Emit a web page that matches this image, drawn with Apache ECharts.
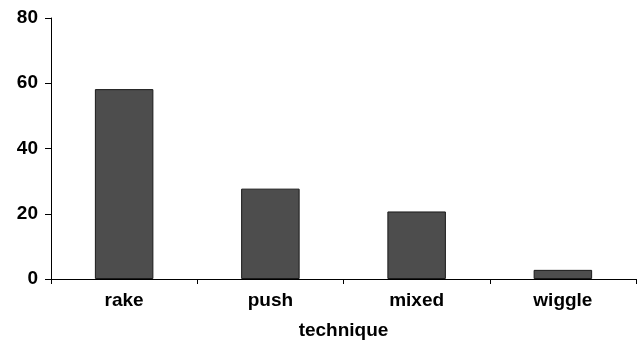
<!DOCTYPE html>
<html><head><meta charset="utf-8">
<script src="https://cdn.jsdelivr.net/npm/echarts@6/dist/echarts.min.js"></script>
<style>html,body{margin:0;padding:0;background:#fff}#c{width:639px;height:345px}</style>
</head><body><div id="c"></div>
<script>
var categories = ['rake', 'push', 'mixed', 'wiggle'];
var values = [58.2, 27.7, 20.7, 2.8];
var yTicks = [0, 20, 40, 60, 80];
var xTitle = 'technique';

var chart = echarts.init(document.getElementById('c'), null, {renderer: 'canvas'});
var font = 'Liberation Sans, Arial, sans-serif';
chart.setOption({
  animation: false,
  grid: {left: 51, right: 3, top: 18, bottom: 65, containLabel: false},
  xAxis: {
    type: 'category', data: categories,
    name: xTitle, nameLocation: 'middle', nameGap: 42,
    nameTextStyle: {fontFamily: font, fontWeight: 'bold', fontSize: 19, color: '#000'},
    axisLine: {lineStyle: {color: '#000', width: 1}},
    axisTick: {show: true, alignWithLabel: false, length: 5, lineStyle: {color: '#000'}},
    axisLabel: {fontFamily: font, fontWeight: 'bold', fontSize: 19, color: '#000', margin: 12}
  },
  yAxis: {
    type: 'value', min: yTicks[0], max: yTicks[yTicks.length - 1], interval: 20,
    splitLine: {show: false},
    axisLine: {show: true, lineStyle: {color: '#000', width: 1}},
    axisTick: {show: true, length: 6, lineStyle: {color: '#000'}},
    axisLabel: {fontFamily: font, fontWeight: 'bold', fontSize: 19, color: '#000', margin: 13}
  },
  series: [{
    type: 'bar', data: values, barCategoryGap: '60%',
    itemStyle: {color: '#4d4d4d', borderColor: '#1a1a1a', borderWidth: 1}
  }]
});
</script></body></html>
